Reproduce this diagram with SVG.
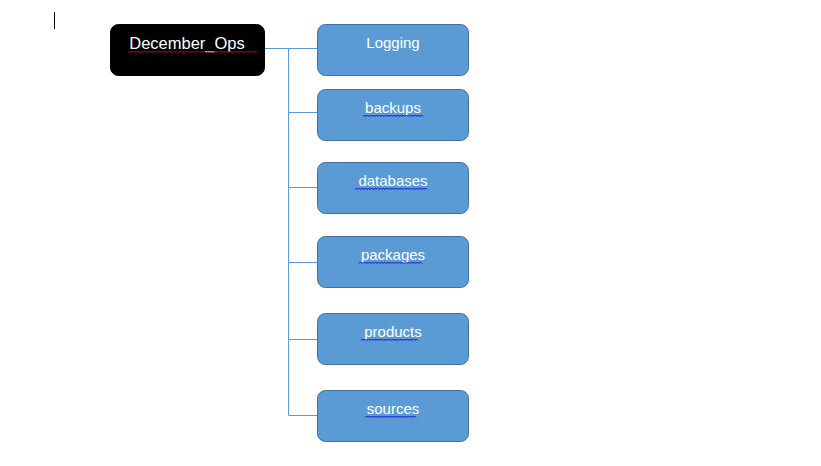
<svg xmlns="http://www.w3.org/2000/svg" width="821" height="466" viewBox="0 0 821 466">
<style>
.box{fill:#5B9BD5;stroke:#41719C;stroke-width:1}
.root{fill:#000;stroke:#000;stroke-width:1}
.lbl{font-family:"Liberation Sans",Arial,sans-serif;font-size:15px;fill:#fff;text-anchor:middle}
.conn{fill:none;stroke:#5B9BD5;stroke-width:1}
.sq{fill:none;stroke-width:1}
</style>
<rect width="821" height="466" fill="#fff"/>
<line x1="54.5" y1="12" x2="54.5" y2="29" stroke="#000" stroke-width="1"/>
<g id="connectors">
<path class="conn" d="M265 48.5H317.5M288.5 48.5V415.5M288.5 112.5H317.5M288.5 187.5H317.5M288.5 262.5H317.5M288.5 339.5H317.5M288.5 415.5H317.5"/>
</g>
<g id="node-root">
<rect class="root" x="110.5" y="24.5" width="154" height="51" rx="8"/>
<text class="lbl" x="187" y="49" style="font-size:16.5px">December_Ops</text>
<path class="sq" stroke="#E00000" d="M128 52.5l1.5-1.5 1.5 1.5 1.5-1.5 1.5 1.5 1.5-1.5 1.5 1.5 1.5-1.5 1.5 1.5 1.5-1.5 1.5 1.5 1.5-1.5 1.5 1.5 1.5-1.5 1.5 1.5 1.5-1.5 1.5 1.5 1.5-1.5 1.5 1.5 1.5-1.5 1.5 1.5 1.5-1.5 1.5 1.5 1.5-1.5 1.5 1.5 1.5-1.5 1.5 1.5 1.5-1.5 1.5 1.5 1.5-1.5 1.5 1.5 1.5-1.5 1.5 1.5 1.5-1.5 1.5 1.5 1.5-1.5 1.5 1.5 1.5-1.5 1.5 1.5 1.5-1.5 1.5 1.5 1.5-1.5 1.5 1.5 1.5-1.5 1.5 1.5 1.5-1.5 1.5 1.5 1.5-1.5 1.5 1.5 1.5-1.5 1.5 1.5 1.5-1.5 1.5 1.5 1.5-1.5 1.5 1.5 1.5-1.5 1.5 1.5 1.5-1.5 1.5 1.5 1.5-1.5 1.5 1.5 1.5-1.5 1.5 1.5 1.5-1.5 1.5 1.5 1.5-1.5 1.5 1.5 1.5-1.5 1.5 1.5 1.5-1.5 1.5 1.5 1.5-1.5 1.5 1.5 1.5-1.5 1.5 1.5 1.5-1.5 1.5 1.5 1.5-1.5 1.5 1.5 1.5-1.5 1.5 1.5 1.5-1.5 1.5 1.5 1.5-1.5 1.5 1.5 1.5-1.5 1.5 1.5"/>
</g>
<g id="node-logging">
<rect class="box" x="317.5" y="24.5" width="151" height="51" rx="8"/>
<text class="lbl" x="393" y="47.5">Logging</text>
</g>
<g id="node-backups">
<rect class="box" x="317.5" y="89.5" width="151" height="51" rx="8"/>
<text class="lbl" x="393" y="112.5">backups</text>
<path class="sq" stroke="#1010D0" d="M363 116.5l1.5-1.5 1.5 1.5 1.5-1.5 1.5 1.5 1.5-1.5 1.5 1.5 1.5-1.5 1.5 1.5 1.5-1.5 1.5 1.5 1.5-1.5 1.5 1.5 1.5-1.5 1.5 1.5 1.5-1.5 1.5 1.5 1.5-1.5 1.5 1.5 1.5-1.5 1.5 1.5 1.5-1.5 1.5 1.5 1.5-1.5 1.5 1.5 1.5-1.5 1.5 1.5 1.5-1.5 1.5 1.5 1.5-1.5 1.5 1.5 1.5-1.5 1.5 1.5 1.5-1.5 1.5 1.5 1.5-1.5 1.5 1.5 1.5-1.5 1.5 1.5 1.5-1.5 1.5 1.5"/>
</g>
<g id="node-databases">
<rect class="box" x="317.5" y="162.5" width="151" height="51" rx="8"/>
<text class="lbl" x="393" y="185.5">databases</text>
<path class="sq" stroke="#1010D0" d="M355 189.5l1.5-1.5 1.5 1.5 1.5-1.5 1.5 1.5 1.5-1.5 1.5 1.5 1.5-1.5 1.5 1.5 1.5-1.5 1.5 1.5 1.5-1.5 1.5 1.5 1.5-1.5 1.5 1.5 1.5-1.5 1.5 1.5 1.5-1.5 1.5 1.5 1.5-1.5 1.5 1.5 1.5-1.5 1.5 1.5 1.5-1.5 1.5 1.5 1.5-1.5 1.5 1.5 1.5-1.5 1.5 1.5 1.5-1.5 1.5 1.5 1.5-1.5 1.5 1.5 1.5-1.5 1.5 1.5 1.5-1.5 1.5 1.5 1.5-1.5 1.5 1.5 1.5-1.5 1.5 1.5 1.5-1.5 1.5 1.5 1.5-1.5 1.5 1.5 1.5-1.5 1.5 1.5 1.5-1.5 1.5 1.5"/>
</g>
<g id="node-packages">
<rect class="box" x="317.5" y="236.5" width="151" height="51" rx="8"/>
<text class="lbl" x="393" y="259.5">packages</text>
<path class="sq" stroke="#1010D0" d="M359 263.5l1.5-1.5 1.5 1.5 1.5-1.5 1.5 1.5 1.5-1.5 1.5 1.5 1.5-1.5 1.5 1.5 1.5-1.5 1.5 1.5 1.5-1.5 1.5 1.5 1.5-1.5 1.5 1.5 1.5-1.5 1.5 1.5 1.5-1.5 1.5 1.5 1.5-1.5 1.5 1.5 1.5-1.5 1.5 1.5 1.5-1.5 1.5 1.5 1.5-1.5 1.5 1.5 1.5-1.5 1.5 1.5 1.5-1.5 1.5 1.5 1.5-1.5 1.5 1.5 1.5-1.5 1.5 1.5 1.5-1.5 1.5 1.5 1.5-1.5 1.5 1.5 1.5-1.5 1.5 1.5 1.5-1.5 1.5 1.5"/>
</g>
<g id="node-products">
<rect class="box" x="317.5" y="313.5" width="151" height="51" rx="8"/>
<text class="lbl" x="393" y="336.5">products</text>
<path class="sq" stroke="#1010D0" d="M361 340.5l1.5-1.5 1.5 1.5 1.5-1.5 1.5 1.5 1.5-1.5 1.5 1.5 1.5-1.5 1.5 1.5 1.5-1.5 1.5 1.5 1.5-1.5 1.5 1.5 1.5-1.5 1.5 1.5 1.5-1.5 1.5 1.5 1.5-1.5 1.5 1.5 1.5-1.5 1.5 1.5 1.5-1.5 1.5 1.5 1.5-1.5 1.5 1.5 1.5-1.5 1.5 1.5 1.5-1.5 1.5 1.5 1.5-1.5 1.5 1.5 1.5-1.5 1.5 1.5 1.5-1.5 1.5 1.5 1.5-1.5 1.5 1.5 1.5-1.5 1.5 1.5"/>
</g>
<g id="node-sources">
<rect class="box" x="317.5" y="390.5" width="151" height="51" rx="8"/>
<text class="lbl" x="393" y="413.5">sources</text>
<path class="sq" stroke="#1010D0" d="M365 417.5l1.5-1.5 1.5 1.5 1.5-1.5 1.5 1.5 1.5-1.5 1.5 1.5 1.5-1.5 1.5 1.5 1.5-1.5 1.5 1.5 1.5-1.5 1.5 1.5 1.5-1.5 1.5 1.5 1.5-1.5 1.5 1.5 1.5-1.5 1.5 1.5 1.5-1.5 1.5 1.5 1.5-1.5 1.5 1.5 1.5-1.5 1.5 1.5 1.5-1.5 1.5 1.5 1.5-1.5 1.5 1.5 1.5-1.5 1.5 1.5 1.5-1.5 1.5 1.5 1.5-1.5 1.5 1.5"/>
</g>
</svg>
